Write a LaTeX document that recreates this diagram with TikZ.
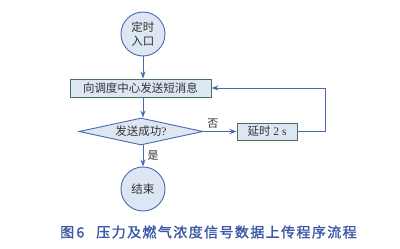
\documentclass[tikz,border=0pt]{standalone}
\usepackage{fontspec}
\setmainfont{Liberation Serif}
\newfontfamily\cjk{Noto Sans CJK SC}
\newfontfamily\cjkb{Noto Sans CJK SC}[FakeBold=1.5,LetterSpace=10]
\usetikzlibrary{shapes.geometric,arrows.meta}
\definecolor{lineblue}{HTML}{4A68B4}
\definecolor{fillblue}{HTML}{DCE7F3}
\definecolor{boxedge}{HTML}{4E6E62}
\definecolor{capblue}{HTML}{3A58A6}
\definecolor{txt}{HTML}{333333}
\tikzset{
  x=1pt, y=-1pt,
  term/.style={circle, draw=lineblue, fill=fillblue, line width=0.9pt, minimum size=44pt, inner sep=0pt, align=center, font=\fontsize{11.5}{14}\selectfont\cjk, text=txt},
  procbox/.style={rectangle, draw=boxedge, fill=fillblue, line width=0.9pt, inner sep=0pt, font=\fontsize{11.5}{14}\selectfont, text=txt},
  decide/.style={diamond, aspect=4.6, draw=lineblue, fill=fillblue, line width=0.9pt, inner sep=0pt, minimum width=124pt, minimum height=27pt, font=\fontsize{11.5}{14}\selectfont, text=txt},
  flow/.style={draw=lineblue, line width=0.9pt, -{Stealth[length=7pt,width=5pt]}},
  lbl/.style={font=\fontsize{11}{13}\selectfont\cjk, text=txt, inner sep=0pt}
}
\begin{document}
\begin{tikzpicture}
\useasboundingbox (0,0) rectangle (400,249);
\fill[white] (0,0) rectangle (400,249);
\node[term] (start) at (143,34) {定时\\入口};
\node[procbox, minimum width=141pt, minimum height=18pt] (send) at (140.5,88) {\cjk 向调度中心发送短消息};
\node[decide] (check) at (141,131.5) {{\cjk 发送成功}?};
\node[procbox, minimum width=60pt, minimum height=17pt] (delay) at (267,131.5) {{\cjk 延时} 2 s};
\node[term] (end) at (143,189) {结束};
\coordinate (loopa) at (325,131.5);
\coordinate (loopb) at (325,88);
\draw[flow] (start.south) -- (start.south |- send.north);
\draw[flow] (start.south |- send.south) -- (start.south |- check.north);
\draw[flow] (check.east) -- (delay.west);
\draw[flow] (start.south |- check.south) -- (end.north);
\draw[flow] (delay.east) -- (loopa) -- (loopb) -- (send.east);
\node[lbl] (no) at (213,124) {否};
\node[lbl] (yes) at (153,156) {是};
\node[font=\fontsize{14}{16}\selectfont\cjkb, text=capblue, anchor=west, inner sep=0pt] (cap) at (60,232) {图\,6\hspace{12pt}压力及燃气浓度信号数据上传程序流程};
\end{tikzpicture}
\end{document}
